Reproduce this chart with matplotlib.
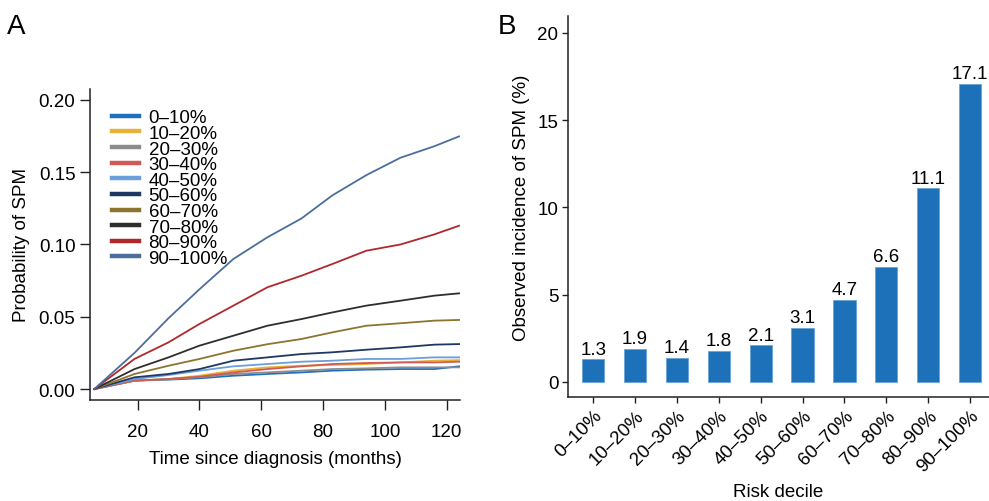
import matplotlib
matplotlib.use("Agg")
import matplotlib.pyplot as plt
import numpy as np

plt.rcParams['font.family'] = ['Liberation Sans', 'DejaVu Sans']

# ---------------- Panel A data ----------------
months = [6, 19, 30, 40, 51, 62, 73, 83, 94, 105, 116, 124]
deciles = ["0–10%", "10–20%", "20–30%", "30–40%", "40–50%",
           "50–60%", "60–70%", "70–80%", "80–90%", "90–100%"]
p_0_10 = [0, 0.0058, 0.0065, 0.0074, 0.0092, 0.0104, 0.0115, 0.0127, 0.0134, 0.0138, 0.0138, 0.0157]
p_10_20 = [0, 0.0058, 0.0069, 0.0092, 0.0127, 0.0150, 0.0161, 0.0166, 0.0173, 0.0184, 0.0196, 0.0200]
p_20_30 = [0, 0.0058, 0.0069, 0.0081, 0.0104, 0.0115, 0.0127, 0.0138, 0.0143, 0.0150, 0.0150, 0.0150]
p_30_40 = [0, 0.0058, 0.0069, 0.0085, 0.0115, 0.0138, 0.0157, 0.0173, 0.0180, 0.0184, 0.0184, 0.0189]
p_40_50 = [0, 0.0069, 0.0097, 0.0127, 0.0157, 0.0173, 0.0189, 0.0196, 0.0208, 0.0208, 0.0219, 0.0219]
p_50_60 = [0, 0.0081, 0.0104, 0.0138, 0.0196, 0.0219, 0.0242, 0.0254, 0.0272, 0.0288, 0.0307, 0.0311]
p_60_70 = [0, 0.0104, 0.0161, 0.0208, 0.0265, 0.0310, 0.0346, 0.0392, 0.0438, 0.0455, 0.0473, 0.0478]
p_70_80 = [0, 0.0138, 0.0219, 0.0300, 0.0369, 0.0438, 0.0484, 0.0530, 0.0577, 0.0611, 0.0646, 0.0662]
p_80_90 = [0, 0.0208, 0.0323, 0.0450, 0.0577, 0.0704, 0.0784, 0.0865, 0.0957, 0.1000, 0.1070, 0.1130]
p_90_100 = [0, 0.0250, 0.0490, 0.0690, 0.0900, 0.1050, 0.1180, 0.1340, 0.1480, 0.1600, 0.1680, 0.1748]
curves = [p_0_10, p_10_20, p_20_30, p_30_40, p_40_50,
          p_50_60, p_60_70, p_70_80, p_80_90, p_90_100]
line_colors = ["#1f6fbf", "#e8b23a", "#8c8c8c", "#d05a55", "#6a9fdb",
               "#1f3763", "#8d7430", "#2e2e2e", "#b0282c", "#4b6e9c"]

# ---------------- Panel B data ----------------
incidence = [1.3, 1.9, 1.4, 1.8, 2.1, 3.1, 4.7, 6.6, 11.1, 17.1]

fig = plt.figure(figsize=(9.89, 5.02), dpi=100)
FS = 13.5
SPINE = "#222222"

# Panel A
axA = fig.add_axes([90/989, 1-401/502, 370/989, 311/502])
for vals, c, lab in zip(curves, line_colors, deciles):
    axA.plot(months, vals, color=c, lw=1.3, label=lab)
axA.set_xlim(4.6, 124.3)
axA.set_ylim(-0.0076, 0.2076)
axA.set_xticks([20, 40, 60, 80, 100, 120])
axA.set_yticks([0, 0.05, 0.10, 0.15, 0.20])
axA.set_yticklabels(["0.00", "0.05", "0.10", "0.15", "0.20"])
axA.set_xlabel("Time since diagnosis (months)", fontsize=FS, labelpad=7)
axA.set_ylabel("Probability of SPM", fontsize=FS, labelpad=6)
for s in ["top", "right"]:
    axA.spines[s].set_visible(False)
for s in ["left", "bottom"]:
    axA.spines[s].set_linewidth(1.1)
    axA.spines[s].set_color(SPINE)
axA.tick_params(labelsize=FS, length=7, width=1.0, color=SPINE)
axA.tick_params(axis="x", pad=9.5)
axA.tick_params(axis="y", pad=3.5)
leg = axA.legend(loc="upper left", bbox_to_anchor=(0.0595, 0.935), frameon=False,
                 fontsize=FS, labelspacing=-0.08, handlelength=1.45,
                 handletextpad=0.5, borderpad=0, borderaxespad=0)
for h in leg.get_lines():
    h.set_linewidth(3.2)

# Panel B
axB = fig.add_axes([568/989, 1-398/502, 421/989, 381/502])
x = np.arange(len(deciles))
axB.bar(x, incidence, width=0.53, color="#1c71b8", edgecolor="#6aa3d8", linewidth=0.6)
for xi, v in zip(x, incidence):
    axB.text(xi, v + 0.1, f"{v:.1f}", ha="center", va="bottom", fontsize=FS)
axB.set_xlim(-0.6, 9.45)
axB.set_ylim(-0.86, 20.97)
axB.set_yticks([0, 5, 10, 15, 20])
axB.set_xticks(x)
axB.set_xticklabels(deciles, rotation=45, ha="right", rotation_mode="anchor")
axB.set_xlabel("Risk decile", fontsize=FS, labelpad=6)
axB.set_ylabel("Observed incidence of SPM (%)", fontsize=FS, labelpad=5)
for s in ["top", "right"]:
    axB.spines[s].set_visible(False)
for s in ["left", "bottom"]:
    axB.spines[s].set_linewidth(1.1)
    axB.spines[s].set_color(SPINE)
axB.tick_params(labelsize=FS, length=4, width=1.0, pad=3, color=SPINE)

fig.text(7/989, 1-34/502, "A", fontsize=20, ha="left", va="baseline")
fig.text(498/989, 1-34/502, "B", fontsize=20, ha="left", va="baseline")

fig.savefig("out.png", dpi=100)
